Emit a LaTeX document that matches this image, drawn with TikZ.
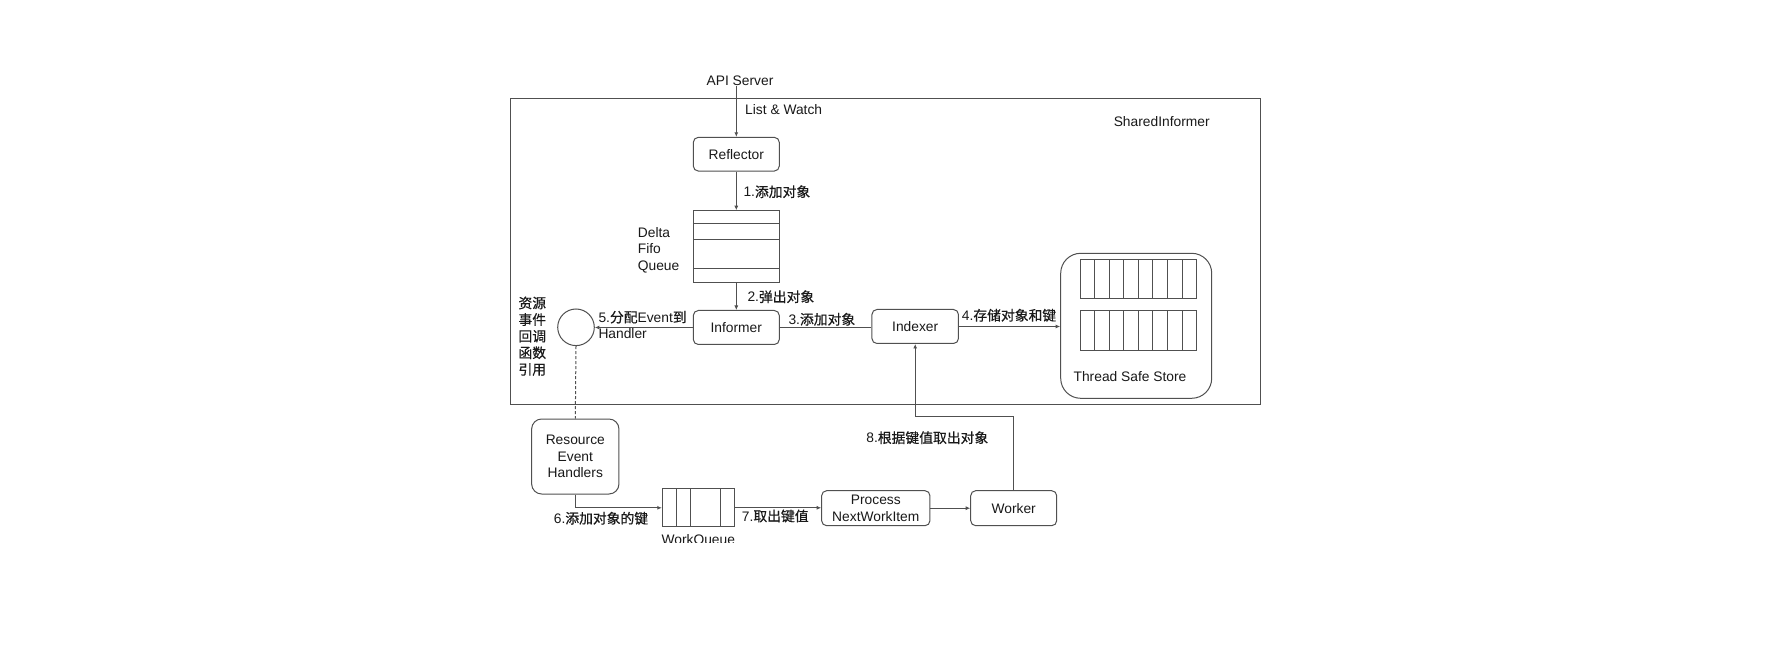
\documentclass[tikz,border=0pt]{standalone}
\usepackage{fontspec}
\setmainfont{Liberation Sans}
\newfontfamily\cjk[FakeBold=0.5]{Noto Sans CJK SC}
\usetikzlibrary{arrows.meta}
\definecolor{linec}{RGB}{80,80,80}
\definecolor{textc}{RGB}{25,25,25}
\tikzset{
  ln/.style={draw=linec, line width=1pt},
  arr/.style={ln, -{Latex[length=4.5pt,width=4pt]}},
  box/.style={ln, rounded corners=5pt, inner sep=0pt, text=textc, align=center},
  lbl/.style={inner sep=0pt, text=textc, font=\fontsize{13.8}{16.6}\selectfont},
}
\begin{document}
\begin{tikzpicture}[x=1pt,y=-1pt, font=\fontsize{13.8}{16.6}\selectfont]
\useasboundingbox[fill=white] (0,0) rectangle (1786,652);

% frame
\draw[ln] (510.7,99) rectangle (1260,404);
\node[lbl] (shared) at (1161.7,121.7) {SharedInformer};

% top part
\node[lbl] (api) at (740,81) {API Server};
\node[box, minimum width=86pt, minimum height=33.7pt] (reflector) at (736.3,154.2) {Reflector};
\node[ln, rectangle, inner sep=0pt, minimum width=86pt, minimum height=72pt] (fifo) at (736.3,246.7) {};
\foreach \yy in {224,239.3,269} \draw[ln] (fifo.west |- 0,\yy) -- (fifo.east |- 0,\yy);
\node[lbl, anchor=west, align=left] (fifolbl) at (637.7,250) {Delta\\Fifo\\Queue};
\node[box, minimum width=86pt, minimum height=34pt] (informer) at (736.3,327.5) {Informer};
\node[box, minimum width=86.5pt, minimum height=34pt] (indexer) at (915.2,326.5) {Indexer};

% store
\node[ln, rectangle, rounded corners=20pt, minimum width=151pt, minimum height=145pt, inner sep=0pt] (store) at (1136.2,325.8) {};
\foreach \yt/\yb in {260/298.3, 311/350}{
  \draw[ln] (1080,\yt) rectangle (1196.7,\yb);
  \foreach \i in {1,...,7} \draw[ln] (1080+\i*14.5875,\yt) -- (1080+\i*14.5875,\yb);
}
\node[lbl] (storelbl) at (1130,376.7) {Thread Safe Store};

% circle and side text
\node[ln, circle, minimum size=36.6pt, inner sep=0pt] (handlerref) at (576,327.3) {};
\node[lbl, anchor=west, align=left] (cbtext) at (518.3,336.2) {\cjk 资源\\\cjk 事件\\\cjk 回调\\\cjk 函数\\\cjk 引用};

% bottom part
\node[box, rounded corners=10pt, minimum width=87.3pt, minimum height=75pt] (res) at (575.3,456.5) {Resource\\Event\\Handlers};
\node[ln, rectangle, inner sep=0pt, minimum width=71.7pt, minimum height=37.7pt] (wq) at (698.2,507.8) {};
\foreach \xx in {676.7,690.7,720} \draw[ln] (\xx,0 |- wq.north) -- (\xx,0 |- wq.south);
\begin{scope}
\clip (0,0) rectangle (1786,542.8);
\node[lbl] (wqlbl) at (698.3,540.5) {WorkQueue};
\end{scope}
\node[box, minimum width=108.3pt, minimum height=35pt] (proc) at (875.8,508.2) {Process\\NextWorkItem};
\node[box, minimum width=86pt, minimum height=35pt] (worker) at (1013.7,508.2) {Worker};
\coordinate (bend) at (1013.7,416.7);

% connectors
\draw[arr] (reflector.north |- api.south) -- (reflector.north);
\draw[arr] (reflector.south) -- (fifo.north);
\draw[arr] (fifo.south) -- (informer.north);
\draw[arr] (informer.west) -- (informer.west -| handlerref.east);
\draw[ln] (informer.east) -- (informer.east -| indexer.west);
\draw[arr] (indexer.east) -- (indexer.east -| store.west);
\draw[ln, dash pattern=on 3pt off 2pt] (handlerref.south) -- (res.north);
\draw[arr] (res.south) |- (wq.west);
\draw[arr] (wq.east) -- (wq.east -| proc.west);
\draw[arr] (proc.east) -- (proc.east -| worker.west);
\draw[arr] (worker.north) -- (bend) -| (indexer.south);

% labels
\node[lbl, anchor=west] (lw) at (745,110) {List \& Watch};
\node[lbl, anchor=west] (l1) at (743.3,191.7) {1.{\cjk 添加对象}};
\node[lbl, anchor=west] (l2) at (747.3,296.7) {2.{\cjk 弹出对象}};
\node[lbl, anchor=west] (l3) at (788.3,319.3) {3.{\cjk 添加对象}};
\node[lbl, anchor=west] (l4) at (961.7,315.3) {4.{\cjk 存储对象和键}};
\node[lbl, anchor=west, align=left] (l5) at (598.3,325) {5.{\cjk 分配}Event{\cjk 到}\\Handler};
\node[lbl] (l6) at (601,518.3) {6.{\cjk 添加对象的键}};
\node[lbl, anchor=west] (l7) at (741.7,516) {7.{\cjk 取出键值}};
\node[lbl] (l8) at (927.3,437.7) {8.{\cjk 根据键值取出对象}};
\end{tikzpicture}
\end{document}
